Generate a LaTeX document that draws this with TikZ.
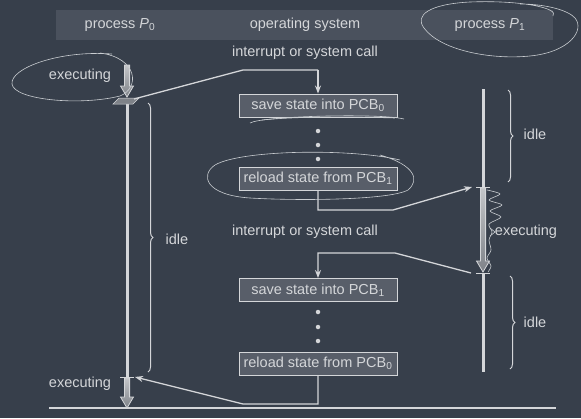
\documentclass[tikz,border=0pt]{standalone}
\usepackage{fontspec}
\setmainfont{Liberation Sans}
\usetikzlibrary{arrows.meta,decorations.pathreplacing}
\definecolor{bg}{HTML}{373F4B}
\definecolor{hdr}{HTML}{4A515D}
\definecolor{fg}{HTML}{D4D6D9}
\definecolor{boxfill}{HTML}{585E69}
\definecolor{arrtop}{HTML}{C4C6C9}
\definecolor{arrbot}{HTML}{7E8288}
\definecolor{ink}{HTML}{C9CDD1}
\newcommand\holarrow[3]{%
  \draw[fg,line width=0.8pt,top color=arrtop,bottom color=arrbot]
    (#1-2.6,#2) -- (#1-2.6,#3-11) -- (#1-6.5,#3-11) -- (#1,#3) -- (#1+6.5,#3-11)
    -- (#1+2.6,#3-11) -- (#1+2.6,#2) -- cycle;}
\begin{document}
\begin{tikzpicture}[x=1pt,y=-1pt,
  lbl/.style={text=fg,font=\fontsize{14.5}{16}\selectfont,inner sep=0pt},
  osbox/.style={draw=fg,line width=0.9pt,fill=boxfill,text=fg,
    font=\fontsize{14.5}{16}\selectfont,minimum width=158pt,minimum height=23pt,inner sep=1pt},
  bar/.style={draw=fg,line width=3pt},
  tickm/.style={draw=fg,line width=1pt},
  conn/.style={draw=fg,line width=1.3pt,-{Stealth[length=8pt,width=6pt]}},
  plain/.style={draw=fg,line width=1.3pt},
  bracket/.style={draw=fg,line width=1pt,decorate,decoration={brace,amplitude=5pt}},
  dot/.style={circle,fill=fg,inner sep=0pt,minimum size=4.5pt},
  note/.style={draw=ink,line width=0.6pt}]
\useasboundingbox (0,0) rectangle (581,418);
\fill[bg] (0,0) rectangle (581,418);
\fill[hdr] (56,10) rectangle (553,40);

% header
\node[lbl] (hp0) at (120,25) {process \textit{P}\textsubscript{0}};
\node[lbl] (hos) at (305,25) {operating system};
\node[lbl] (hp1) at (490,25) {process \textit{P}\textsubscript{1}};

% texts
\node[lbl] (int1) at (305,53) {interrupt or system call};
\node[lbl] (int2) at (305,232) {interrupt or system call};
\node[lbl] (ex0) at (80,76) {executing};
\node[lbl] (ex0b) at (80,384) {executing};
\node[lbl] (ex1) at (526,232) {executing};
\node[lbl] (idle0) at (177,239) {idle};
\node[lbl] (idle1) at (535,134) {idle};
\node[lbl] (idle2) at (535,322) {idle};

% OS boxes
\node[osbox] (s0) at (318,105.5) {save state into PCB\textsubscript{0}};
\node[osbox] (r1) at (318,178.5) {reload state from PCB\textsubscript{1}};
\node[osbox] (s1) at (318,290) {save state into PCB\textsubscript{1}};
\node[osbox] (r0) at (318,363.5) {reload state from PCB\textsubscript{0}};
\node[dot] (d1) at (318,131) {};
\node[dot] (d2) at (318,145) {};
\node[dot] (d3) at (318,159) {};
\node[dot] (d4) at (318,312) {};
\node[dot] (d5) at (318,327) {};
\node[dot] (d6) at (318,341) {};

% process bars
\coordinate (p0a) at (127,101);
\coordinate (p0b) at (127,377);
\coordinate (p1top) at (483,89);
\coordinate (p1a) at (483,187);
\coordinate (p1b) at (483,273);
\coordinate (p1bot) at (483,372);
\draw[bar] (p0a) -- (p0b);
\draw[bar] (p1top) -- (p1a);
\draw[bar] (p1b) -- (p1bot);
\holarrow{127}{65}{97}
\holarrow{127}{378}{408}
\holarrow{483}{188}{272}
\fill[arrbot,draw=fg,line width=0.5pt] (113,104) -- (119,98) -- (139,98) -- (133,104) -- cycle;
\draw[tickm] ([xshift=-7pt]p0b) -- ([xshift=7pt]p0b);
\draw[tickm] ([xshift=-7pt]p1a) -- ([xshift=7pt]p1a);
\draw[tickm] ([xshift=-7pt]p1b) -- ([xshift=7pt]p1b);

% baseline
\coordinate (bl0) at (49,408);
\coordinate (bl1) at (556,408);
\draw[draw=fg,line width=1.3pt] (bl0) -- (bl1);

% connectors
\coordinate (k1) at (243,70);
\coordinate (p0in) at (134,99);
\draw[plain] (p0in) -- (k1) -- (k1 -| s0.north);
\draw[conn] (k1 -| s0.north) -- (s0.north);
\coordinate (k2) at (393,210);
\coordinate (p1in) at (472,187);
\draw[conn] (r1.south) |- (k2) -- (p1in);
\coordinate (p1out) at (471,273);
\coordinate (k3) at (395,253);
\draw[conn] (p1out) -- (k3) -- (k3 -| s1.north) -- (s1.north);
\coordinate (k4) at (243,404);
\coordinate (p0back) at (135,377);
\draw[conn] (r0.south) |- (k4) -- (p0back);

% braces
\draw[bracket] (148,103) -- (148,372);
\draw[bracket] (508,90) -- (508,182);
\draw[bracket] (510,276) -- (510,369);

% hand-drawn notes
\draw[note] (112,54) .. controls (60,50) and (10,68) .. (12,84)
  .. controls (14,100) and (80,106) .. (120,96)
  .. controls (140,88) and (138,58) .. (100,53);
\draw[note] (553,16) .. controls (560,8) and (520,0) .. (470,2)
  .. controls (430,4) and (414,15) .. (424,28)
  .. controls (440,50) and (490,60) .. (530,56)
  .. controls (570,52) and (585,30) .. (575,18)
  .. controls (568,10) and (545,4) .. (520,4);
\draw[note] (400,160) .. controls (350,148) and (240,150) .. (215,165)
  .. controls (200,175) and (205,195) .. (250,198)
  .. controls (300,201) and (390,200) .. (408,190)
  .. controls (420,180) and (415,165) .. (380,155);
\draw[note] (250,123) .. controls (262,116) and (380,113) .. (404,119);
\draw[note] (262,120) .. controls (300,116) and (360,117) .. (395,118);
\draw[note] plot[smooth] coordinates {(487,190) (500,194) (489,200) (502,205) (490,211) (501,217) (489,224) (492,232) (489,240) (491,250) (487,258) (491,266) (488,272)};
\draw[note] (490,228) -- (495,232) -- (490,236);
\end{tikzpicture}
\end{document}
